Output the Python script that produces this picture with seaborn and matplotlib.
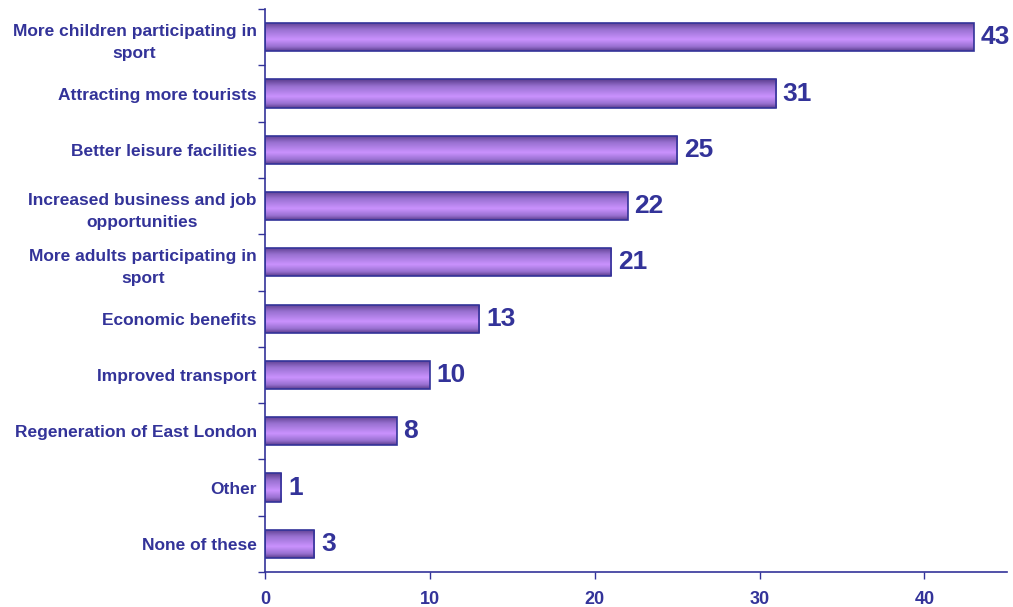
import matplotlib
matplotlib.use("Agg")
import matplotlib.pyplot as plt
import seaborn as sns
import numpy as np
import pandas as pd
from matplotlib.colors import LinearSegmentedColormap

categories = [
    "More children participating in\nsport",
    "Attracting more tourists",
    "Better leisure facilities",
    "Increased business and job\nopportunities",
    "More adults participating in\nsport",
    "Economic benefits",
    "Improved transport",
    "Regeneration of East London",
    "Other",
    "None of these",
]
values = [43, 31, 25, 22, 21, 13, 10, 8, 1, 3]
xticks = [0, 10, 20, 30, 40]

navy = "#333399"
sns.set_theme(style="white")
plt.rcParams['font.family'] = ['Liberation Sans', 'DejaVu Sans']

df = pd.DataFrame({"cat": categories, "val": values})
fig = plt.figure(figsize=(10.13, 6.07), dpi=100)
ax = fig.add_axes([0.2616, 0.0577, 0.994 - 0.2616, 0.985 - 0.0577])

sns.barplot(data=df, x="val", y="cat", orient="h", width=0.5, color="#b080e8",
            edgecolor=navy, linewidth=1.2, ax=ax)

cmap = LinearSegmentedColormap.from_list(
    "grad", [(0, "#5a3c8c"), (0.25, "#9870d0"), (0.6, "#ca92fe"), (0.85, "#9870d0"), (1, "#5a3c8c")])
grad = np.linspace(0, 1, 256).reshape(-1, 1)
for p in ax.patches:
    bb = p.get_bbox()
    im = ax.imshow(grad, cmap=cmap, aspect="auto",
                   extent=[bb.x0, bb.x1, bb.y1, bb.y0], zorder=p.get_zorder() - 0.1,
                   interpolation="bicubic")
    im.set_clip_path(p)
    p.set_facecolor("none")

ax.set_xlim(0, 45)
ax.set_ylim(len(categories) - 0.5, -0.5)

for i, v in enumerate(values):
    ax.text(v + 0.4, i, str(v), va="center", ha="left", fontsize=19,
            fontweight="bold", color=navy)

ax.set_xticks(xticks)
ax.set_xticklabels([str(t) for t in xticks], fontsize=13, fontweight="bold", color=navy)
ax.set_yticks(range(len(categories)))
ax.set_yticklabels(categories, fontsize=12.5, fontweight="bold", color=navy,
                   ha="right", multialignment="center", linespacing=1.6)
ax.set_yticks(np.arange(-0.5, len(categories), 1), minor=True)
ax.tick_params(axis="y", which="major", length=0, pad=6)
ax.tick_params(axis="y", which="minor", length=5, width=1, color=navy, direction="out", left=True)
ax.tick_params(axis="x", which="major", length=5, width=1, color=navy, direction="out",
               bottom=True, pad=9)

ax.set_xlabel("")
ax.set_ylabel("")
for s in ["top", "right"]:
    ax.spines[s].set_visible(False)
for s in ["left", "bottom"]:
    ax.spines[s].set_color(navy)
    ax.spines[s].set_linewidth(1.2)
ax.grid(False)

fig.savefig("out.png", dpi=100)
